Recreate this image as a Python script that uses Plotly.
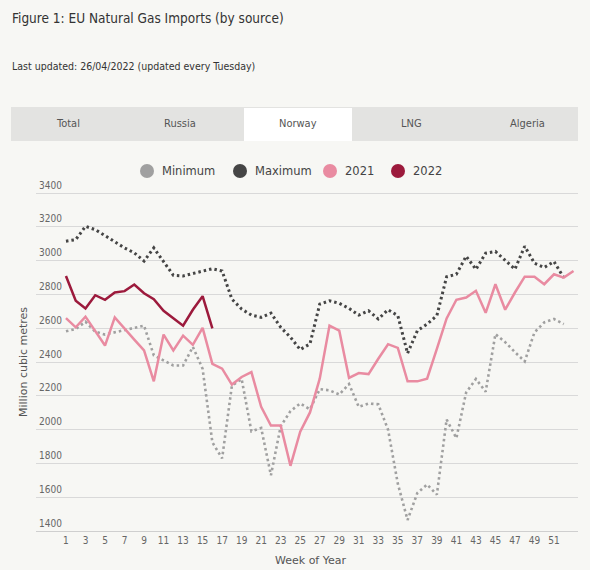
import plotly.graph_objects as go

# weekly Norway imports, million cubic metres
weeks_hist = list(range(1, 53))
weeks_2021 = list(range(1, 54))
weeks_2022 = list(range(1, 17))

minimum = [2582, 2596, 2639, 2580, 2563, 2576, 2590, 2606, 2616, 2440,
           2410, 2380, 2380, 2490, 2360, 1925, 1830, 2260, 2300, 1990,
           2010, 1730, 2020, 2110, 2155, 2120, 2240, 2233, 2208, 2270,
           2135, 2155, 2150, 2000, 1680, 1465, 1625, 1675, 1615, 2060,
           1950, 2220, 2300, 2225, 2566, 2518, 2459, 2404, 2576, 2635,
           2655, 2625]

maximum = [3116, 3125, 3204, 3184, 3149, 3110, 3076, 3047, 2998, 3076,
           2998, 2914, 2910, 2925, 2942, 2953, 2939, 2773, 2714, 2678,
           2665, 2690, 2606, 2547, 2474, 2508, 2743, 2763, 2748, 2718,
           2678, 2704, 2655, 2710, 2675, 2452, 2586, 2625, 2675, 2905,
           2920, 3027, 2949, 3045, 3055, 3000, 2950, 3086, 2985, 2960,
           2995, 2900]

y2021 = [2660, 2606, 2669, 2586, 2498, 2665, 2596, 2533, 2469, 2286,
         2563, 2469, 2557, 2502, 2603, 2390, 2361, 2267, 2312, 2341,
         2135, 2024, 2024, 1786, 1988, 2102, 2302, 2616, 2586, 2306,
         2335, 2329, 2420, 2506, 2484, 2286, 2286, 2302, 2478, 2659,
         2769, 2782, 2822, 2692, 2861, 2710, 2812, 2906, 2906, 2861,
         2920, 2900, 2939]

y2022 = [2910, 2763, 2718, 2796, 2769, 2812, 2820, 2859, 2808, 2772,
         2704, 2659, 2616, 2710, 2790, 2600]

tabs = ["Total", "Russia", "Norway", "LNG", "Algeria"]
tab_x = [68, 180, 298, 411, 527]
week_ticks = list(range(1, 52, 2))

series_names = ["Minimum", "Maximum", "2021", "2022"]
colours = ["#a0a0a0", "#454545", "#e98ba1", "#9c1a3c"]
legend_x = [147, 240, 330, 398]   # marker centres (px)

W, H = 590, 570
L, R, T, B = 36, 12, 178, 39
pw, ph = W - L - R, H - T - B

def px(x):
    return (x - L) / pw

def py(y):
    return (H - B - y) / ph

cond = "Liberation Sans Narrow, DejaVu Sans Condensed, Liberation Sans, sans-serif"

fig = go.Figure()

fig.add_trace(go.Scatter(x=weeks_hist, y=minimum, mode="lines", name="Minimum",
                         line=dict(color=colours[0], width=2.6, dash="2.5px,3px")))
fig.add_trace(go.Scatter(x=weeks_hist, y=maximum, mode="lines", name="Maximum",
                         line=dict(color=colours[1], width=3, dash="2.5px,3px")))
fig.add_trace(go.Scatter(x=weeks_2021, y=y2021, mode="lines", name="2021",
                         line=dict(color=colours[2], width=2.5)))
fig.add_trace(go.Scatter(x=weeks_2022, y=y2022, mode="lines", name="2022",
                         line=dict(color=colours[3], width=2.5)))

# legend drawn by hand: round marker + label
for name, c, x in zip(series_names, colours, legend_x):
    fig.add_shape(type="circle", xref="paper", yref="paper",
                  x0=px(x - 7), x1=px(x + 7), y0=py(178), y1=py(164),
                  fillcolor=c, line_width=0)
    fig.add_annotation(text=name, x=px(x + 13), y=py(171), xref="paper", yref="paper",
                       showarrow=False, xanchor="left", yanchor="middle",
                       font=dict(family="DejaVu Sans", size=11.5, color="#444444"))

# tab strip
fig.add_shape(type="rect", xref="paper", yref="paper", layer="below",
              x0=px(11), x1=px(578), y0=py(141), y1=py(107),
              fillcolor="#e3e3e1", line_width=0)
fig.add_shape(type="rect", xref="paper", yref="paper", layer="below",
              x0=px(244), x1=px(352), y0=py(141), y1=py(108),
              fillcolor="#ffffff", line_width=0)
for t, x in zip(tabs, tab_x):
    fig.add_annotation(text=t, x=px(x), y=py(124), xref="paper", yref="paper",
                       showarrow=False, xanchor="center", yanchor="middle",
                       font=dict(family=cond, size=11, color="#555555"))

fig.add_annotation(text="Figure 1: EU Natural Gas Imports (by source)",
                   x=px(10), y=py(18), xref="paper", yref="paper", showarrow=False,
                   xanchor="left", yanchor="middle",
                   font=dict(family=cond, size=13.5, color="#333333"))
fig.add_annotation(text="Last updated: 26/04/2022 (updated every Tuesday)",
                   x=px(10), y=py(66), xref="paper", yref="paper", showarrow=False,
                   xanchor="left", yanchor="middle",
                   font=dict(family=cond, size=10.5, color="#333333"))
fig.add_annotation(text="Million cubic metres", textangle=-90,
                   x=px(23), y=py(362), xref="paper", yref="paper", showarrow=False,
                   xanchor="center", yanchor="middle",
                   font=dict(family="DejaVu Sans", size=11, color="#555555"))
fig.add_annotation(text="Week of Year",
                   x=px(311), y=py(560), xref="paper", yref="paper", showarrow=False,
                   xanchor="center", yanchor="middle",
                   font=dict(family="DejaVu Sans", size=11, color="#555555"))

fig.update_layout(
    width=W, height=H,
    margin=dict(l=L, r=R, t=T, b=B),
    paper_bgcolor="#f7f7f4", plot_bgcolor="#f7f7f4",
    showlegend=False,
    xaxis=dict(range=[-2.07, 53.46], tickvals=week_ticks, showgrid=False, zeroline=False,
               showline=True, linecolor="#cfcfcf", linewidth=1, ticks="",
               tickfont=dict(family=cond, size=10, color="#666666")),
    # top of range padded so the 3400 label (drawn above its gridline) stays visible
    yaxis=dict(range=[1400, 3490], tickvals=list(range(1400, 3401, 200)),
               showgrid=True, gridcolor="#d9d9d9",
               gridwidth=1, zeroline=False, ticks="", ticklabelposition="inside",
               ticklabelshift=-8, tickfont=dict(family=cond, size=10, color="#666666")),
)

fig.write_html("out.html", config={"displayModeBar": False},
               post_script="document.body.style.margin='0px';")
